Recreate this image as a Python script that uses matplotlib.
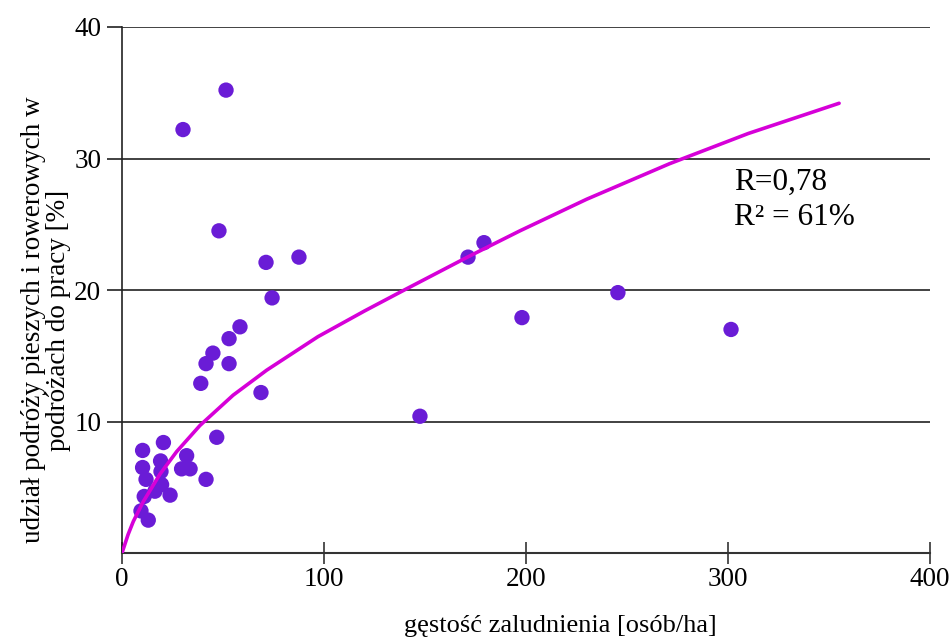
import matplotlib
matplotlib.use("Agg")
import matplotlib.pyplot as plt

plt.rcParams['font.family'] = ['Liberation Serif', 'DejaVu Serif']

# Scatter data: population density [persons/ha] vs share of walking+cycling trips [%]
density = [30.2, 51.5, 48.0, 71.3, 87.6, 74.3, 58.4, 53.0, 45.0, 41.6, 53.0, 39.0,
           68.8, 147.5, 171.3, 179.2, 198.0, 245.5, 301.5,
           20.5, 10.2, 46.9, 32.0, 10.2, 19.1, 19.3, 29.5, 33.7, 11.9, 19.6, 41.6,
           16.3, 11.0, 23.8, 9.4, 13.0]
share = [32.2, 35.2, 24.5, 22.1, 22.5, 19.4, 17.2, 16.3, 15.2, 14.4, 14.4, 12.9,
         12.2, 10.4, 22.5, 23.6, 17.9, 19.8, 17.0,
         8.4, 7.8, 8.8, 7.4, 6.5, 7.0, 6.2, 6.4, 6.4, 5.6, 5.2, 5.6,
         4.7, 4.3, 4.4, 3.2, 2.5]

# Trend line
trend_x = [0, 3, 5.6, 10.5, 18.8, 27, 38.6, 55, 71.6, 97, 120, 138.5, 171, 197, 230, 271, 310, 355]
trend_y = [0, 1.4, 2.4, 3.9, 6.0, 7.7, 9.7, 12.0, 13.9, 16.45, 18.4, 19.9, 22.5, 24.5, 26.9, 29.6, 31.9, 34.2]

x_ticks = [0, 100, 200, 300, 400]
y_ticks = [10, 20, 30, 40]

fig = plt.figure(figsize=(9.49, 6.39), dpi=100)
ax = fig.add_axes([122/949, 1-553/639, (930-122)/949, (553-27)/639])

ax.set_xlim(0, 400)
ax.set_ylim(0, 40)

for yv in y_ticks:
    ax.axhline(yv, color='#333333', lw=1.3, zorder=1)

ax.scatter(density, share, s=122, color='#6A1CD6', edgecolors='none', zorder=3)
ax.plot(trend_x, trend_y, color='#D600D8', lw=2.6, zorder=4,
        solid_capstyle='round', solid_joinstyle='round')

for s in ['top', 'right']:
    ax.spines[s].set_visible(False)
ax.spines['left'].set_color('#222222')
ax.spines['bottom'].set_color('#333333')
ax.spines['left'].set_linewidth(1.2)
ax.spines['bottom'].set_linewidth(1.5)

ax.set_xticks(x_ticks)
ax.set_xticklabels([str(v) for v in x_ticks])
ax.set_yticks(y_ticks)
ax.set_yticklabels([str(v) for v in y_ticks])
ax.tick_params(axis='x', direction='inout', length=16, width=1.2, labelsize=19.5, pad=2, color='#333333')
ax.tick_params(axis='y', direction='out', length=11, width=1.3, labelsize=19.5, pad=4, color='#333333')

ax.text(303, 28.2, 'R=0,78', fontsize=22.5, va='center', ha='left')
ax.text(303, 25.5, 'R² = 61%', fontsize=22.5, va='center', ha='left')

fig.text(560/949, 1-626/639, 'gęstość zaludnienia [osób/ha]', fontsize=19, ha='center', va='center')
fig.text(46/949, 1-320/639, 'udział podróży pieszych i rowerowych w\npodróżach do pracy [%]',
         fontsize=19.5, ha='center', va='center', rotation=90, multialignment='center', linespacing=1.0)

fig.savefig('out.png', dpi=100)
